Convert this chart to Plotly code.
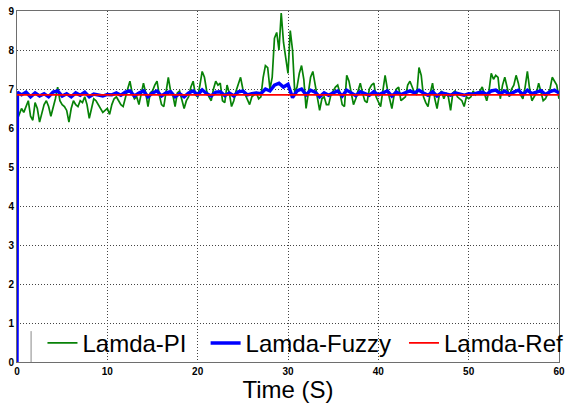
import plotly.graph_objects as go

# ---------------- data ----------------
pi_time = [i * 0.25 for i in range(241)]
pi_values = [
    6.2, 6.35, 6.5, 6.4, 6.55, 6.7, 6.3, 6.2, 6.65, 6.5, 6.15, 6.4, 6.6, 6.7, 6.55, 6.3, 6.5, 6.75, 7.05, 6.7,
    6.6, 6.55, 6.45, 6.15, 6.5, 6.7, 6.6, 6.55, 6.7, 6.65, 6.8, 6.6, 6.25, 6.5, 6.75, 6.7, 6.6, 6.5, 6.4, 6.45,
    6.5, 6.35, 6.6, 6.75, 6.8, 6.7, 6.6, 6.55, 6.8, 7.0, 7.2, 6.9, 6.75, 6.8, 6.6, 6.85, 7.15, 6.9, 6.55, 6.9,
    6.95, 7.1, 7.2, 6.85, 6.6, 6.55, 7.0, 7.3, 6.95, 6.85, 6.55, 6.9, 6.95, 6.7, 6.5, 6.7, 6.8, 7.05, 7.2, 6.85,
    6.8, 7.1, 7.45, 7.3, 6.95, 6.8, 6.7, 7.0, 7.2, 7.1, 7.15, 6.7, 6.65, 7.1, 6.9, 6.55, 6.7, 6.95, 7.1, 7.3,
    7.0, 6.85, 6.7, 6.6, 6.8, 6.85, 6.9, 6.75, 6.8, 7.3, 7.6, 7.55, 7.0, 7.3, 8.3, 8.45, 8.0, 8.95, 8.2, 7.8,
    7.4, 8.5, 8.0, 6.9, 7.05, 7.4, 7.6, 7.25, 6.5, 6.9, 7.3, 7.45, 7.1, 6.8, 6.45, 6.75, 6.8, 6.6, 6.6, 6.85,
    6.95, 7.05, 7.1, 6.9, 6.6, 6.55, 7.35, 7.2, 6.9, 6.6, 6.75, 6.95, 7.15, 6.9, 6.7, 6.65, 7.0, 7.1, 7.15, 6.8,
    6.65, 6.55, 6.95, 7.35, 7.0, 6.7, 6.5, 6.85, 7.0, 7.05, 6.7, 6.75, 6.8, 7.1, 7.2, 7.05, 6.9, 6.85, 7.55, 7.35,
    6.8, 6.65, 6.55, 6.9, 7.15, 6.75, 6.5, 6.85, 6.95, 6.75, 6.9, 6.8, 6.45, 6.9, 6.95, 6.8, 6.75, 6.7, 6.55, 6.8,
    6.75, 6.8, 6.95, 6.85, 6.9, 6.95, 7.05, 6.85, 6.7, 6.95, 7.4, 7.25, 7.35, 7.3, 6.75, 7.1, 7.3, 7.05, 6.8, 7.0,
    7.1, 7.35, 7.15, 6.85, 6.75, 7.05, 7.45, 7.0, 6.7, 6.8, 6.9, 7.15, 6.95, 6.7, 6.75, 6.9, 7.0, 7.3, 7.2, 7.1,
    6.75,
]

fuzzy_time = [0.0, 0.05] + [0.5 * i for i in range(1, 121)]
fuzzy_values = [
    0.0, 6.92,
    6.85, 6.92, 6.8, 6.9, 6.82, 6.88, 6.8, 6.92, 6.95, 6.82,
    6.88, 6.8, 6.9, 6.84, 6.92, 6.8, 6.87, 6.85, 6.82, 6.86,
    6.85, 6.9, 6.84, 6.92, 6.95, 6.82, 6.9, 6.95, 6.8, 6.9,
    6.95, 6.82, 6.9, 6.93, 6.8, 6.88, 6.8, 6.9, 6.95, 6.85,
    6.98, 6.88, 6.82, 6.92, 6.93, 6.83, 6.9, 6.82, 6.93, 6.95,
    6.85, 6.88, 6.9, 6.88, 7.0, 6.95, 7.1, 7.15, 7.05, 7.12,
    6.78, 6.95, 7.0, 6.85, 6.97, 6.92, 6.8, 6.9, 6.84, 6.9,
    6.95, 6.82, 6.97, 6.9, 6.83, 6.93, 6.88, 6.84, 6.93, 6.85,
    6.9, 6.95, 6.82, 6.92, 6.86, 6.9, 6.95, 6.9, 6.97, 6.9,
    6.84, 6.93, 6.82, 6.9, 6.88, 6.84, 6.9, 6.87, 6.84, 6.88,
    6.87, 6.9, 6.92, 6.86, 6.95, 6.97, 6.88, 6.95, 6.86, 6.92,
    6.97, 6.86, 6.97, 6.88, 6.92, 6.96, 6.86, 6.93, 6.97, 6.9,
]

ref_time = [0, 60]
ref_values = [6.85, 6.85]

x_ticks = [0, 10, 20, 30, 40, 50, 60]
y_ticks = [0, 1, 2, 3, 4, 5, 6, 7, 8, 9]

# ---------------- figure ----------------
fig = go.Figure()
fig.add_trace(go.Scatter(x=pi_time, y=pi_values, mode="lines", name="Lamda-PI",
                         line=dict(color="#078207", width=1.7), legend="legend"))
fig.add_trace(go.Scatter(x=fuzzy_time, y=fuzzy_values, mode="lines", name="Lamda-Fuzzy",
                         line=dict(color="#0000ff", width=3.4), legend="legend2"))
fig.add_trace(go.Scatter(x=ref_time, y=ref_values, mode="lines", name="Lamda-Ref",
                         line=dict(color="#ff0000", width=1.8), legend="legend3"))

axis_common = dict(
    showgrid=True, gridcolor="#444444", griddash="1px,2px", gridwidth=1,
    showline=True, linecolor="#6e6e6e", linewidth=1, mirror=True,
    zeroline=False, ticks="", ticklabeloverflow="allow",
    tickfont=dict(family="Arial", size=10, color="black", weight="bold"),
)

fig.update_xaxes(range=[0, 60], tickvals=x_ticks, **axis_common,
                 title=dict(text="Time (S)", font=dict(family="Arial", size=24, color="black"),
                            standoff=2))
fig.update_yaxes(range=[0, 9], tickvals=y_ticks, **axis_common)

leg_common = dict(orientation="h", y=-0.011, xanchor="left", yanchor="bottom",
                  font=dict(family="Arial", size=24, color="black"),
                  bgcolor="rgba(255,255,255,0)", borderwidth=0, itemwidth=30)

fig.update_layout(
    width=575, height=403,
    margin=dict(l=17, r=6, t=11, b=41),
    plot_bgcolor="white", paper_bgcolor="white",
    showlegend=True,
    legend=dict(x=0.047, **leg_common),
    legend2=dict(x=0.348, **leg_common),
    legend3=dict(x=0.714, **leg_common),
)

# white legend box covering the grid, with its thin left edge
fig.add_shape(type="rect", xref="paper", yref="paper", x0=0.026, x1=1.0, y0=0.0, y1=0.088,
              fillcolor="white", line=dict(width=0), layer="between")
fig.add_shape(type="line", xref="paper", yref="paper", x0=0.026, x1=0.026, y0=0.0, y1=0.088,
              line=dict(color="#888888", width=1))

fig.write_html("out.html")
